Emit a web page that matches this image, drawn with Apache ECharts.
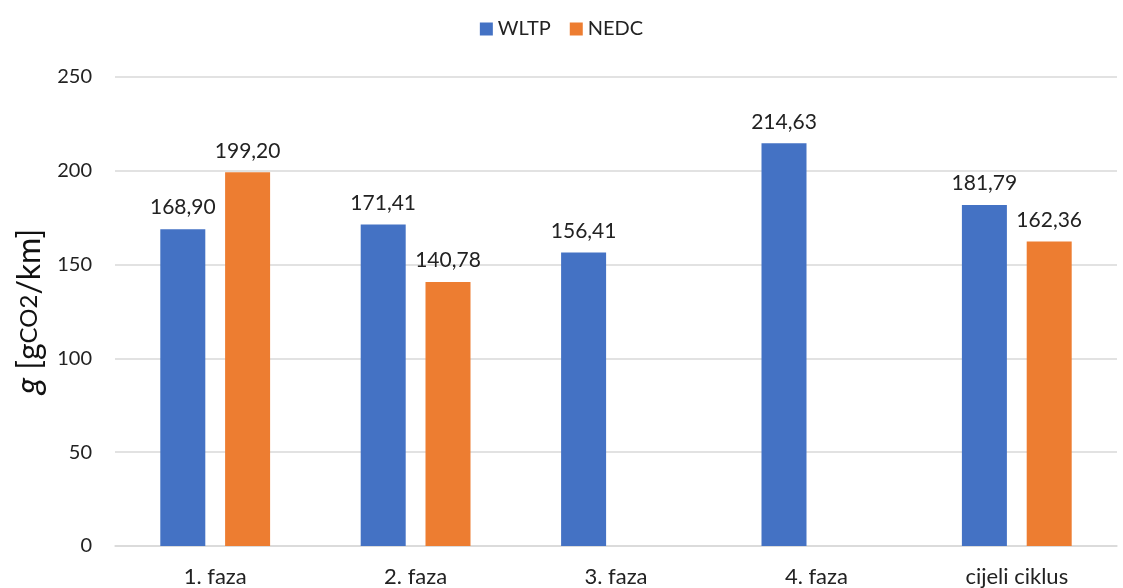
<!DOCTYPE html>
<html><head><meta charset="utf-8">
<script src="https://cdn.jsdelivr.net/npm/echarts@6/dist/echarts.min.js"></script>
<style>html,body{margin:0;padding:0;background:#fff}#c{width:1123px;height:588px}</style>
</head><body><div id="c"></div>
<script>
const categories = ['1. faza', '2. faza', '3. faza', '4. faza', 'cijeli ciklus'];
const wltp = [168.90, 171.41, 156.41, 214.63, 181.79];
const nedc = [199.20, 140.78, null, null, 162.36];
const yTicks = [0, 50, 100, 150, 200, 250];

const font = 'Lato, "Open Sans", sans-serif';
const fmt = p => p.value == null ? '' : p.value.toFixed(2).replace('.', ',');
const chart = echarts.init(document.getElementById('c'));
chart.setOption({
  animation: false,
  textStyle: { fontFamily: font },
  legend: {
    top: 14, left: 'center', itemWidth: 13, itemHeight: 13, itemGap: 19,
    icon: 'rect',
    textStyle: { fontSize: 20, color: '#222', fontFamily: font }
  },
  grid: { left: 115, right: 6, top: 77, bottom: 41 },
  xAxis: {
    type: 'category', data: categories,
    axisLine: { lineStyle: { color: '#d9d9d9', width: 1.5 } },
    axisTick: { show: false },
    axisLabel: { fontSize: 22, color: '#222', margin: 20, fontFamily: font }
  },
  yAxis: {
    type: 'value', min: yTicks[0], max: yTicks[yTicks.length - 1], interval: 50,
    axisLabel: { fontSize: 20, color: '#222', margin: 23, fontFamily: font },
    splitLine: { lineStyle: { color: '#d9d9d9', width: 1.5 } },
    axisLine: { show: false }, axisTick: { show: false },
    name: '{i|g }{n|[g}{s|CO2}{n|/km]}',
    nameLocation: 'middle', nameGap: 62, nameRotate: 90,
    nameTextStyle: {
      rich: {
        i: { fontSize: 34, fontStyle: 'italic', color: '#111', fontFamily: font },
        n: { fontSize: 32, color: '#111', fontFamily: font },
        s: { fontSize: 24, color: '#111', fontFamily: font }
      }
    }
  },
  series: [
    { name: 'WLTP', type: 'bar', data: wltp, barWidth: 45, barGap: '44%',
      itemStyle: { color: '#4472c4' },
      label: { show: true, position: 'top', distance: 11, fontSize: 21, color: '#222', formatter: fmt, fontFamily: font } },
    { name: 'NEDC', type: 'bar', data: nedc, barWidth: 45, barGap: '44%',
      itemStyle: { color: '#ed7d31' },
      label: { show: true, position: 'top', distance: 11, fontSize: 21, color: '#222', formatter: fmt, fontFamily: font } }
  ]
});
</script></body></html>
